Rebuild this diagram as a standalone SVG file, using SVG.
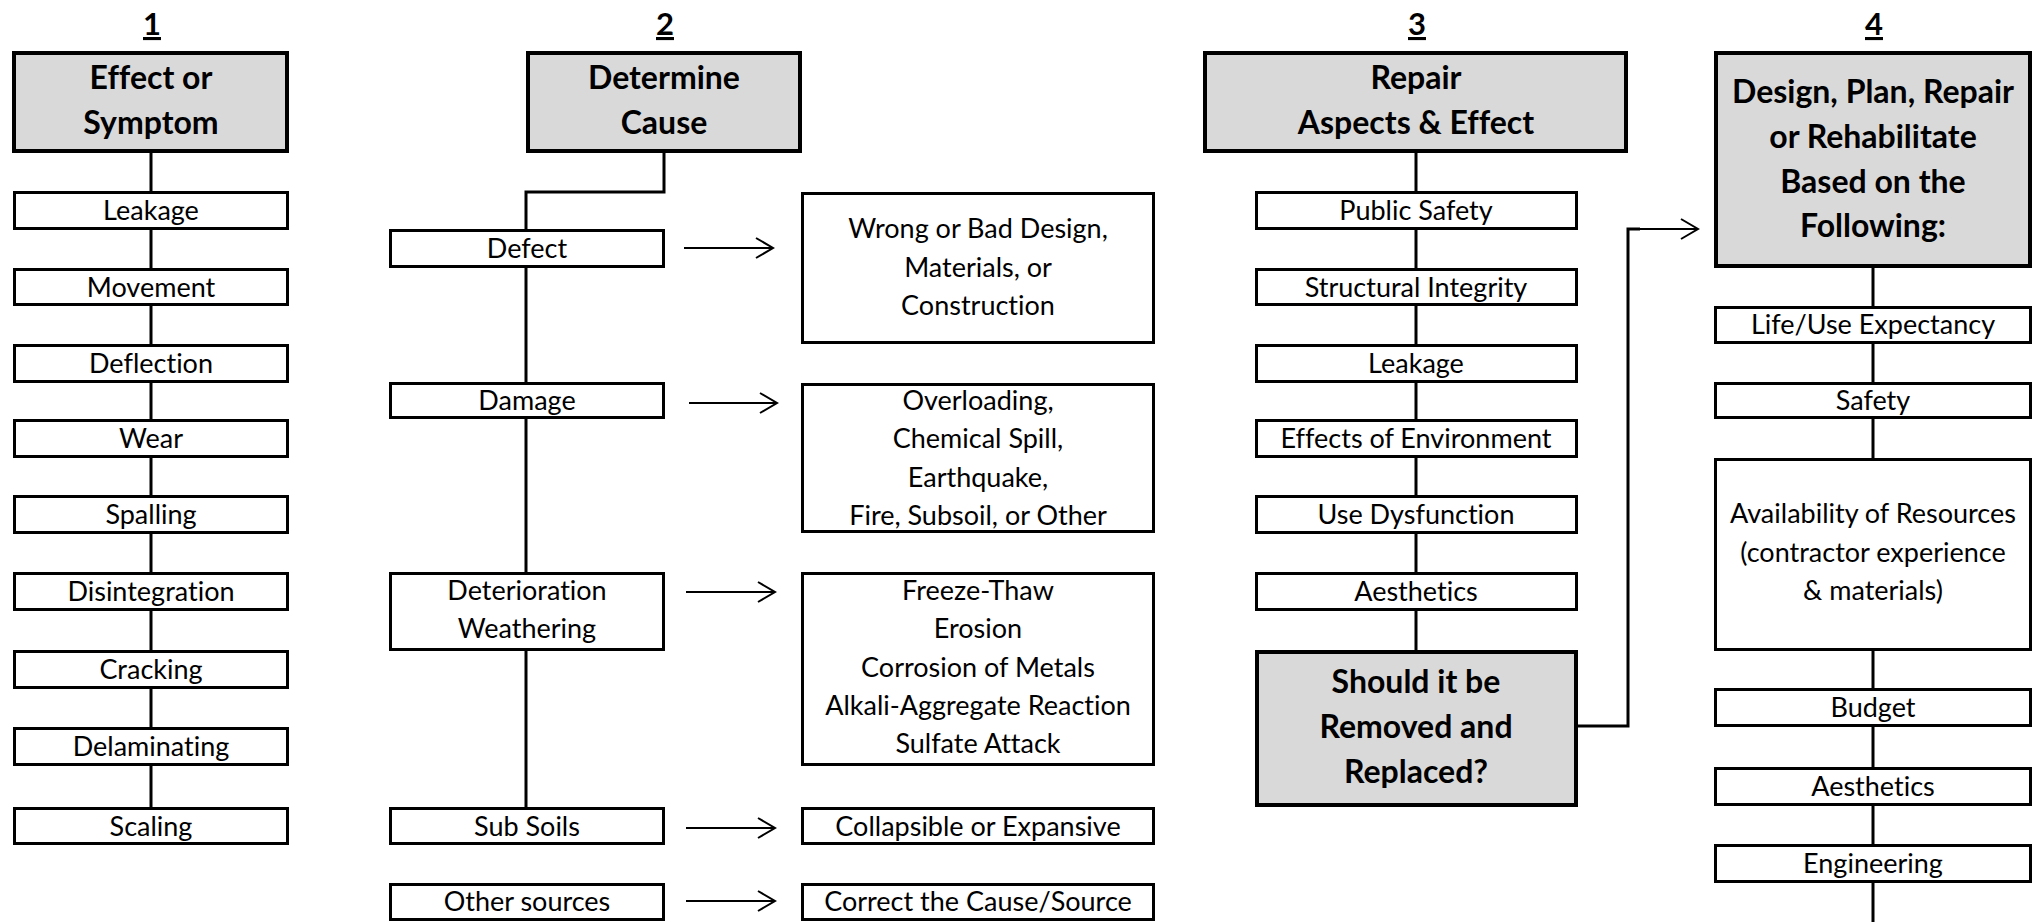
<svg xmlns="http://www.w3.org/2000/svg" width="2039" height="922" viewBox="0 0 2039 922">
<defs>
<style>
.hdr{fill:#d9d9d9;stroke:#000;stroke-width:4}
.box{fill:#fff;stroke:#000;stroke-width:3}
.ln{fill:none;stroke:#000;stroke-width:3}
.ar{fill:none;stroke:#000;stroke-width:2}
text{font-variant-ligatures:none}
.t{font-family:Lato,"Liberation Sans",sans-serif;font-size:27px;fill:#000;text-anchor:middle}
.b{font-family:Lato,"Liberation Sans",sans-serif;font-size:32px;font-weight:bold;fill:#000;text-anchor:middle}
.n{font-family:Lato,"Liberation Sans",sans-serif;font-size:31px;font-weight:bold;fill:#000;text-anchor:middle;text-decoration:underline}
</style>
<marker id="ah" markerWidth="20" markerHeight="24" refX="18" refY="12" orient="auto" markerUnits="userSpaceOnUse">
<path d="M1,2 L18,12 L1,22" fill="none" stroke="#000" stroke-width="2"/>
</marker>
</defs>
<rect width="2039" height="922" fill="#fff"/>

<g id="connectors">
<line class="ln" x1="151" y1="152" x2="151" y2="807"/>
<polyline class="ln" points="664,153 664,192 526,192 526,807"/>
<line class="ln" x1="1416" y1="153" x2="1416" y2="650"/>
<line class="ln" x1="1873" y1="268" x2="1873" y2="922"/>
<polyline class="ln" points="1578,726 1628,726 1628,229 1640,229"/>
<line class="ar" x1="1627" y1="229" x2="1698" y2="229" marker-end="url(#ah)"/>
<line class="ar" x1="684" y1="248" x2="773" y2="248" marker-end="url(#ah)"/>
<line class="ar" x1="689" y1="403" x2="777" y2="403" marker-end="url(#ah)"/>
<line class="ar" x1="686" y1="592" x2="775" y2="592" marker-end="url(#ah)"/>
<line class="ar" x1="686" y1="828" x2="775" y2="828" marker-end="url(#ah)"/>
<line class="ar" x1="686" y1="901" x2="775" y2="901" marker-end="url(#ah)"/>
</g>

<g id="labels">
<text class="n" x="152" y="35">1</text>
<text class="n" x="665" y="35">2</text>
<text class="n" x="1417" y="35">3</text>
<text class="n" x="1874" y="35">4</text>
</g>

<g id="col1-header"><rect class="hdr" x="14" y="53" width="273" height="98"/><text class="b"><tspan x="151" y="89">Effect or</tspan><tspan x="151" y="134">Symptom</tspan></text></g>
<g id="c1-leakage"><rect class="box" x="14.5" y="192.5" width="273" height="36"/><text class="t" x="151" y="220">Leakage</text></g>
<g id="c1-movement"><rect class="box" x="14.5" y="269.5" width="273" height="35"/><text class="t" x="151" y="297">Movement</text></g>
<g id="c1-deflection"><rect class="box" x="14.5" y="345.5" width="273" height="36"/><text class="t" x="151" y="373">Deflection</text></g>
<g id="c1-wear"><rect class="box" x="14.5" y="420.5" width="273" height="36"/><text class="t" x="151" y="448">Wear</text></g>
<g id="c1-spalling"><rect class="box" x="14.5" y="496.5" width="273" height="36"/><text class="t" x="151" y="524">Spalling</text></g>
<g id="c1-disintegration"><rect class="box" x="14.5" y="573.5" width="273" height="36"/><text class="t" x="151" y="601">Disintegration</text></g>
<g id="c1-cracking"><rect class="box" x="14.5" y="651.5" width="273" height="36"/><text class="t" x="151" y="679">Cracking</text></g>
<g id="c1-delaminating"><rect class="box" x="14.5" y="728.5" width="273" height="36"/><text class="t" x="151" y="756">Delaminating</text></g>
<g id="c1-scaling"><rect class="box" x="14.5" y="808.5" width="273" height="35"/><text class="t" x="151" y="836">Scaling</text></g>

<g id="col2-header"><rect class="hdr" x="528" y="53" width="272" height="98"/><text class="b"><tspan x="664" y="89">Determine</tspan><tspan x="664" y="134">Cause</tspan></text></g>
<g id="c2-defect"><rect class="box" x="390.5" y="230.5" width="273" height="36"/><text class="t" x="527" y="258">Defect</text></g>
<g id="c2-damage"><rect class="box" x="390.5" y="383.5" width="273" height="34"/><text class="t" x="527" y="410">Damage</text></g>
<g id="c2-deterioration"><rect class="box" x="390.5" y="573.5" width="273" height="76"/><text class="t"><tspan x="527" y="600">Deterioration</tspan><tspan x="527" y="638">Weathering</tspan></text></g>
<g id="c2-subsoils"><rect class="box" x="390.5" y="808.5" width="273" height="35"/><text class="t" x="527" y="836">Sub Soils</text></g>
<g id="c2-other"><rect class="box" x="390.5" y="884.5" width="273" height="35"/><text class="t" x="527" y="911">Other sources</text></g>
<g id="c2-wrong"><rect class="box" x="802.5" y="193.5" width="351" height="149"/><text class="t"><tspan x="978" y="238">Wrong or Bad Design,</tspan><tspan x="978" y="277">Materials, or</tspan><tspan x="978" y="315">Construction</tspan></text></g>
<g id="c2-overloading"><rect class="box" x="802.5" y="384.5" width="351" height="147"/><text class="t"><tspan x="978" y="410">Overloading,</tspan><tspan x="978" y="448">Chemical Spill,</tspan><tspan x="978" y="487">Earthquake,</tspan><tspan x="978" y="525">Fire, Subsoil, or Other</tspan></text></g>
<g id="c2-freeze"><rect class="box" x="802.5" y="573.5" width="351" height="191"/><text class="t"><tspan x="978" y="600">Freeze-Thaw</tspan><tspan x="978" y="638">Erosion</tspan><tspan x="978" y="677">Corrosion of Metals</tspan><tspan x="978" y="715">Alkali-Aggregate Reaction</tspan><tspan x="978" y="753">Sulfate Attack</tspan></text></g>
<g id="c2-collapsible"><rect class="box" x="802.5" y="808.5" width="351" height="35"/><text class="t" x="978" y="836">Collapsible or Expansive</text></g>
<g id="c2-correct"><rect class="box" x="802.5" y="884.5" width="351" height="35"/><text class="t" x="978" y="911">Correct the Cause/Source</text></g>

<g id="col3-header"><rect class="hdr" x="1205" y="53" width="421" height="98"/><text class="b"><tspan x="1416" y="89">Repair</tspan><tspan x="1416" y="134">Aspects &amp; Effect</tspan></text></g>
<g id="c3-public"><rect class="box" x="1256.5" y="192.5" width="320" height="36"/><text class="t" x="1416" y="220">Public Safety</text></g>
<g id="c3-structural"><rect class="box" x="1256.5" y="269.5" width="320" height="35"/><text class="t" x="1416" y="297">Structural Integrity</text></g>
<g id="c3-leakage"><rect class="box" x="1256.5" y="345.5" width="320" height="36"/><text class="t" x="1416" y="373">Leakage</text></g>
<g id="c3-effects"><rect class="box" x="1256.5" y="420.5" width="320" height="36"/><text class="t" x="1416" y="448">Effects of Environment</text></g>
<g id="c3-use"><rect class="box" x="1256.5" y="496.5" width="320" height="36"/><text class="t" x="1416" y="524">Use Dysfunction</text></g>
<g id="c3-aesthetics"><rect class="box" x="1256.5" y="573.5" width="320" height="36"/><text class="t" x="1416" y="601">Aesthetics</text></g>
<g id="c3-should"><rect class="hdr" x="1257" y="652" width="319" height="153"/><text class="b"><tspan x="1416" y="693">Should it be</tspan><tspan x="1416" y="738">Removed and</tspan><tspan x="1416" y="783">Replaced?</tspan></text></g>

<g id="col4-header"><rect class="hdr" x="1716" y="53" width="314" height="213"/><text class="b"><tspan x="1873" y="103">Design, Plan, Repair</tspan><tspan x="1873" y="148">or Rehabilitate</tspan><tspan x="1873" y="193">Based on the</tspan><tspan x="1873" y="237">Following:</tspan></text></g>
<g id="c4-life"><rect class="box" x="1715.5" y="307.5" width="315" height="35"/><text class="t" x="1873" y="334">Life/Use Expectancy</text></g>
<g id="c4-safety"><rect class="box" x="1715.5" y="383.5" width="315" height="34"/><text class="t" x="1873" y="410">Safety</text></g>
<g id="c4-availability"><rect class="box" x="1715.5" y="459.5" width="315" height="190"/><text class="t"><tspan x="1873" y="523">Availability of Resources</tspan><tspan x="1873" y="562">(contractor experience</tspan><tspan x="1873" y="600">&amp; materials)</tspan></text></g>
<g id="c4-budget"><rect class="box" x="1715.5" y="689.5" width="315" height="36"/><text class="t" x="1873" y="717">Budget</text></g>
<g id="c4-aesthetics"><rect class="box" x="1715.5" y="768.5" width="315" height="36"/><text class="t" x="1873" y="796">Aesthetics</text></g>
<g id="c4-engineering"><rect class="box" x="1715.5" y="845.5" width="315" height="36"/><text class="t" x="1873" y="873">Engineering</text></g>
</svg>
